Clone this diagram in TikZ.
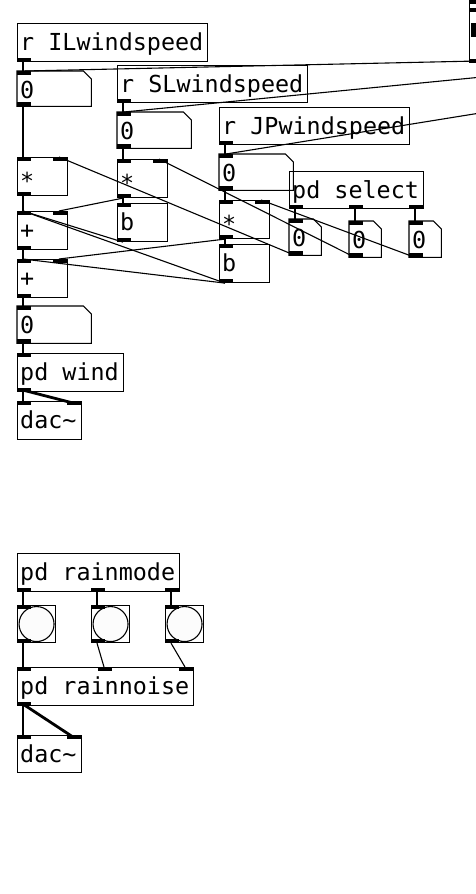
\documentclass[tikz,border=0pt]{standalone}
\usepackage{fontspec}
\newfontfamily\pdfont{DejaVu Sans Mono}
\usetikzlibrary{calc}
\tikzset{
  obj/.style={draw, line width=1.1pt, inner sep=0pt, anchor=north west},
  ghost/.style={inner sep=0pt, anchor=north west},
  lbl/.style={inner sep=0pt, anchor=base west, font=\pdfont\fontsize{23.4}{28}\selectfont},
  conn/.style={line width=1.1pt},
  sig/.style={line width=2.8pt},
  nbox/.style={line width=1.1pt},
}
% object box: name, x, y, w, h, text
\newcommand\pdobj[6]{%
  \node[obj, minimum width=#4pt, minimum height=#5pt] (#1) at (#2,#3) {};
  \node[lbl] (#1-t) at ($(#1.north west)+(3,27)$) {#6};
}
% number box: name, x, y, w, h
\newcommand\pdnum[5]{%
  \node[ghost, minimum width=#4pt, minimum height=#5pt] (#1) at (#2,#3) {};
  \draw[nbox] (#1.north west) -- ($(#1.north east)+(-8,0)$) -- ($(#1.north east)+(0,8)$)
     -- (#1.south east) -- (#1.south west) -- cycle;
  \node[lbl] (#1-t) at ($(#1.north west)+(3,27)$) {0};
}
% bang: name, x, y
\newcommand\pdbng[3]{%
  \node[obj, minimum width=38pt, minimum height=37pt] (#1) at (#2,#3) {};
  \draw[line width=1.1pt, fill={rgb,255:red,252;green,252;blue,252}] (#1.center) circle (17.5pt);
}
\newcommand\inl[2]{\fill ($(#1.north west)+(#2,0)$) rectangle ++(14,4);}
\newcommand\outl[2]{\fill ($(#1.south west)+(#2,-4)$) rectangle ++(14,4);}
\newcommand\wire[4]{\draw[conn] ($(#1.south west)+(#2+6,0)$) -- ($(#3.north west)+(#4+6,0)$);}
\newcommand\swire[4]{\draw[sig] ($(#1.south west)+(#2+6,-2)$) -- ($(#3.north west)+(#4+6,2)$);}

\begin{document}
\begin{tikzpicture}[x=1pt,y=-1pt]
\useasboundingbox (0,0) rectangle (476,894);

% ---------- wind part ----------
\pdobj{ILr}{17}{23}{190}{38}{r ILwindspeed}
\outl{ILr}{0}
\pdnum{ILn}{17}{71}{74}{35}
\inl{ILn}{0}\outl{ILn}{0}

\pdobj{SLr}{117}{65}{190}{37}{r SLwindspeed}
\outl{SLr}{0}
\pdnum{SLn}{117}{112}{74}{36}
\inl{SLn}{0}\outl{SLn}{0}

\pdobj{JPr}{219}{107}{190}{37}{r JPwindspeed}
\outl{JPr}{0}
\pdnum{JPn}{219}{154}{74}{36}
\inl{JPn}{0}\outl{JPn}{0}

\pdobj{sel}{289}{171}{134}{37}{pd select}
\outl{sel}{0}\outl{sel}{60}\outl{sel}{120}

\pdnum{sa}{289}{219}{32}{36}
\inl{sa}{0}\outl{sa}{0}
\pdnum{sb}{349}{221}{32}{36}
\inl{sb}{0}\outl{sb}{0}
\pdnum{sc}{409}{221}{32}{36}
\inl{sc}{0}\outl{sc}{0}

\pdobj{ILm}{17}{157}{50}{38}{\raisebox{-5pt}{*}}
\inl{ILm}{0}\inl{ILm}{36}\outl{ILm}{0}
\pdobj{Pa}{17}{211}{50}{38}{+}
\inl{Pa}{0}\inl{Pa}{36}\outl{Pa}{0}
\pdobj{Pb}{17}{259}{50}{38}{+}
\inl{Pb}{0}\inl{Pb}{36}\outl{Pb}{0}

\pdobj{SLm}{117}{159}{50}{38}{\raisebox{-5pt}{*}}
\inl{SLm}{0}\inl{SLm}{36}\outl{SLm}{0}
\pdobj{SLb}{117}{203}{50}{38}{b}
\inl{SLb}{0}\outl{SLb}{0}

\pdobj{JPm}{219}{200}{50}{38}{\raisebox{-5pt}{*}}
\inl{JPm}{0}\inl{JPm}{36}\outl{JPm}{0}
\pdobj{JPb}{219}{244}{50}{38}{b}
\inl{JPb}{0}\outl{JPb}{0}

\pdnum{Nw}{17}{306}{74}{37}
\inl{Nw}{0}\outl{Nw}{0}
\pdobj{wind}{17}{353}{106}{38}{pd wind}
\inl{wind}{0}\outl{wind}{0}
\pdobj{dacA}{17}{401}{64}{38}{dac\char`\~}
\inl{dacA}{0}\inl{dacA}{50}

% partly visible object at the top right
\node[obj, minimum width=30pt, minimum height=80pt] (TR) at (469,-18) {};
\fill (470,0) rectangle (476,3.5);
\fill (470,8) rectangle (476,12);
\fill (471,23) rectangle (476,37);
\outl{TR}{0}

\coordinate (offSL) at (477,77.5);
\coordinate (offJP) at (477,113.5);

% wires
\wire{ILr}{0}{ILn}{0}
\draw[conn] ($(TR.south west)+(4,-2)$) -- ($(ILn.north west)+(8,0)$);
\draw[conn] (offSL) -- ($(SLn.north west)+(7,0)$);
\draw[conn] (offJP) -- ($(JPn.north west)+(7,0)$);
\wire{SLr}{0}{SLn}{0}
\wire{JPr}{0}{JPn}{0}
\wire{ILn}{0}{ILm}{0}
\wire{SLn}{0}{SLm}{0}
\wire{JPn}{0}{JPm}{0}
\wire{sel}{0}{sa}{0}
\wire{sel}{60}{sb}{0}
\wire{sel}{120}{sc}{0}
\wire{sa}{0}{ILm}{36}
\wire{sb}{0}{SLm}{36}
\wire{sc}{0}{JPm}{36}
\wire{ILm}{0}{Pa}{0}
\wire{SLm}{0}{Pa}{36}
\wire{SLm}{0}{SLb}{0}
\wire{JPm}{0}{Pb}{36}
\wire{JPm}{0}{JPb}{0}
\wire{SLb}{0}{Pa}{0}
\wire{JPb}{0}{Pa}{0}
\wire{JPb}{0}{Pb}{0}
\wire{Pa}{0}{Pb}{0}
\wire{Pb}{0}{Nw}{0}
\wire{Nw}{0}{wind}{0}
\swire{wind}{0}{dacA}{0}
\swire{wind}{0}{dacA}{50}

% ---------- rain part ----------
\pdobj{rmode}{17}{553}{162}{38}{pd rainmode}
\outl{rmode}{0}\outl{rmode}{74}\outl{rmode}{148}
\pdbng{bgA}{17}{605}
\inl{bgA}{0}\outl{bgA}{0}
\pdbng{bgB}{91}{605}
\inl{bgB}{0}\outl{bgB}{0}
\pdbng{bgC}{165}{605}
\inl{bgC}{0}\outl{bgC}{0}
\pdobj{rnoise}{17}{667}{176}{38}{pd rainnoise}
\inl{rnoise}{0}\inl{rnoise}{81}\inl{rnoise}{162}\outl{rnoise}{0}
\pdobj{dacB}{17}{735}{64}{37}{dac\char`\~}
\inl{dacB}{0}\inl{dacB}{50}

\wire{rmode}{0}{bgA}{0}
\wire{rmode}{74}{bgB}{0}
\wire{rmode}{148}{bgC}{0}
\wire{bgA}{0}{rnoise}{0}
\wire{bgB}{0}{rnoise}{81}
\wire{bgC}{0}{rnoise}{162}
\swire{rnoise}{0}{dacB}{0}
\swire{rnoise}{0}{dacB}{50}
\end{tikzpicture}
\end{document}
